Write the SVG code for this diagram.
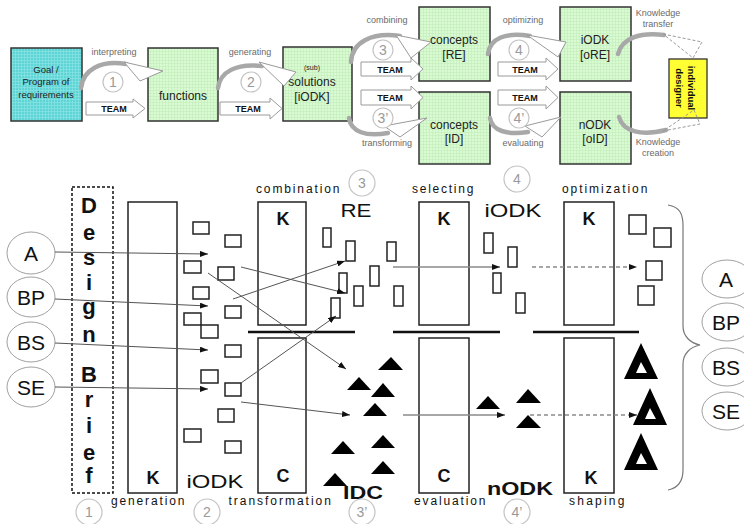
<svg xmlns="http://www.w3.org/2000/svg" width="744" height="524" viewBox="0 0 744 524">
<defs>
<pattern id="gGreen" width="3" height="3" patternUnits="userSpaceOnUse"><rect width="3" height="3" fill="#d9fbd3"/><path d="M0 .5H3M.5 0V3" stroke="#c3ecbb" stroke-width=".6"/></pattern>
<pattern id="gCyan" width="3" height="3" patternUnits="userSpaceOnUse"><rect width="3" height="3" fill="#5fd4d4"/><path d="M0 .5H3M.5 0V3" stroke="#8ee6e6" stroke-width=".6"/></pattern>
<marker id="ah" viewBox="0 0 8 6" refX="8" refY="3" markerWidth="8" markerHeight="6" markerUnits="userSpaceOnUse" orient="auto"><path d="M0,0L8,3L0,6z" fill="#111"/></marker>
<style>
text{font-family:"Liberation Sans",Arial,sans-serif;text-anchor:middle}
.box{stroke:#333;stroke-width:1.5}
.lbl{fill:#6a6a6a;font-size:9px}
.bt{fill:#222;font-size:12px}
.team{fill:#fff;stroke:#9a9a9a;stroke-width:1}
.tt{font-size:9px;font-weight:bold;fill:#111}
.circ{fill:#fff;stroke:#c4c4c4;stroke-width:1.2}
.ct{fill:#9a9a9a;font-size:14px}
.band{fill:none;stroke:#a8a8a8;stroke-width:4.5;stroke-linecap:round}
.head{fill:#fff;stroke:#9a9a9a;stroke-width:1}
.dhead{fill:none;stroke:#9a9a9a;stroke-width:1;stroke-dasharray:3 2}
.kb{fill:none;stroke:#222;stroke-width:1.5}
.sq{fill:#fff;stroke:#222;stroke-width:1.5}
.kl{font-size:18px;font-weight:bold;fill:#111}
.ph{font-size:12px;fill:#111;letter-spacing:.6px}
.big{font-size:19px;fill:#111}
.db{font-size:22px;font-weight:bold;fill:#111}
.ell{fill:#fff;stroke:#a0a0a0;stroke-width:1}
.et{font-size:21px;fill:#111}
.ln{fill:none;stroke:#555;stroke-width:1}
.gl{fill:none;stroke:#8a8a8a;stroke-width:1.3}
.dl{fill:none;stroke:#8a8a8a;stroke-width:1.3;stroke-dasharray:4 3}
.bar{stroke:#111;stroke-width:2.5}
</style>
</defs>
<rect width="744" height="524" fill="#fff"/>

<!-- top process -->
<g id="goal"><rect x="11" y="48" width="71" height="73" fill="url(#gCyan)" class="box"/>
<text class="bt" style="font-size:9.5px" x="46" y="73">Goal /</text>
<text class="bt" style="font-size:9.5px" x="46" y="85">Program of</text>
<text class="bt" style="font-size:9.5px" x="46" y="98">requirements</text></g>
<g id="functions"><rect x="148" y="48" width="70" height="73" fill="url(#gGreen)" class="box"/>
<text class="bt" x="183" y="100">functions</text></g>
<g id="solutions"><rect x="283" y="47" width="69" height="74" fill="url(#gGreen)" class="box"/>
<text class="bt" style="font-size:7px" x="312" y="70">(sub)</text>
<text class="bt" x="312" y="86">solutions</text>
<text class="bt" x="312" y="101">[iODK]</text></g>
<g id="conceptsRE"><rect x="419" y="7" width="71" height="74" fill="url(#gGreen)" class="box"/>
<text class="bt" x="454" y="44">concepts</text><text class="bt" x="454" y="59">[RE]</text></g>
<g id="conceptsID"><rect x="419" y="92" width="71" height="72" fill="url(#gGreen)" class="box"/>
<text class="bt" x="454" y="129">concepts</text><text class="bt" x="454" y="143">[ID]</text></g>
<g id="iODK-oRE"><rect x="560" y="7" width="71" height="74" fill="url(#gGreen)" class="box"/>
<text class="bt" x="595" y="44">iODK</text><text class="bt" x="595" y="59">[oRE]</text></g>
<g id="nODK-oID"><rect x="560" y="92" width="71" height="72" fill="url(#gGreen)" class="box"/>
<text class="bt" x="595" y="129">nODK</text><text class="bt" x="595" y="143">[oID]</text></g>
<g id="designer"><rect x="669" y="59" width="38" height="59" fill="#ffff33" stroke="#333" stroke-width="1.3"/>
<text transform="translate(691,88) rotate(90)" style="font-size:9.5px;font-weight:bold;fill:#111" x="0" y="3">individual</text>
<text transform="translate(679,88) rotate(90)" style="font-size:9.5px;font-weight:bold;fill:#111" x="0" y="3">designer</text></g>

<g id="top-connectors">
<path class="band" d="M81,88 C83,70 100,60 126,64"/><polygon class="head" points="124,62 163,71 140,81"/>
<path class="band" d="M218,88 C220,72 236,63 262,66"/><polygon class="head" points="259,62 296,72 284,86"/>
<path class="band" d="M351,62 C352,42 372,32 400,36"/><polygon class="head" points="396,35 431,42 411,58"/>
<path class="band" d="M349,118 C351,132 366,137 388,133"/><polygon class="head" points="384,126 427,118 400,137"/>
<path class="band" d="M488,54 C490,38 506,32 530,36"/><polygon class="head" points="527,35 566,42 558,57"/>
<path class="band" d="M490,118 C492,131 507,135 528,132"/><polygon class="head" points="525,126 561,117 542,137"/>
<path class="band" d="M618,54 C622,38 640,32 664,35"/><polygon class="dhead" points="663,34 702,42 693,58"/>
<path class="band" d="M619,117 C623,132 642,136 666,130"/><polygon class="dhead" points="663,131 700,124 694,110"/>
<polygon class="team" points="86,102 133,102 133,99 145,108.5 133,118 133,115 86,115"/>
<polygon class="team" points="220,102 270,102 270,98 282,108.5 270,119 270,115 220,115"/>
<polygon class="team" points="361,62 411,62 411,58 423,69 411,80 411,76 361,76"/>
<polygon class="team" points="361,90 411,90 411,86 423,97.5 411,109 411,105 361,105"/>
<polygon class="team" points="498,62 546,62 546,58 558,69 546,80 546,76 498,76"/>
<polygon class="team" points="498,90 546,90 546,86 558,97.5 546,109 546,105 498,105"/>
</g>
<g id="top-labels">
<text class="tt" x="114" y="112">TEAM</text><text class="tt" x="248" y="112">TEAM</text>
<text class="tt" x="390" y="73">TEAM</text><text class="tt" x="390" y="101">TEAM</text>
<text class="tt" x="525" y="73">TEAM</text><text class="tt" x="525" y="101">TEAM</text>
<text class="lbl" x="114" y="55">interpreting</text>
<text class="lbl" x="250" y="55">generating</text>
<text class="lbl" x="387" y="23">combining</text>
<text class="lbl" x="387" y="146">transforming</text>
<text class="lbl" x="523" y="23">optimizing</text>
<text class="lbl" x="523" y="146">evaluating</text>
<text class="lbl" x="658" y="16">Knowledge</text><text class="lbl" x="658" y="27">transfer</text>
<text class="lbl" x="658" y="145">Knowledge</text><text class="lbl" x="658" y="156">creation</text>
<circle class="circ" cx="113" cy="82" r="10"/><text class="ct" x="113" y="87">1</text>
<circle class="circ" cx="251" cy="82" r="10"/><text class="ct" x="251" y="87">2</text>
<circle class="circ" cx="383" cy="50" r="10"/><text class="ct" x="383" y="55">3</text>
<circle class="circ" cx="383" cy="118" r="10"/><text class="ct" x="383" y="123">3’</text>
<circle class="circ" cx="519" cy="50" r="10"/><text class="ct" x="519" y="55">4</text>
<circle class="circ" cx="519" cy="118" r="10"/><text class="ct" x="519" y="123">4’</text>
</g>

<!-- bottom -->
<g id="design-brief"><rect x="72" y="187" width="41" height="306" fill="none" stroke="#111" stroke-width="1.5" stroke-dasharray="3 2"/>
<text class="db" x="89" y="213">D</text><text class="db" x="89" y="240">e</text><text class="db" x="89" y="265">s</text>
<text class="db" x="89" y="290">i</text><text class="db" x="89" y="314">g</text><text class="db" x="89" y="342">n</text>
<text class="db" x="89" y="382">B</text><text class="db" x="89" y="407">r</text><text class="db" x="89" y="433">i</text>
<text class="db" x="89" y="460">e</text><text class="db" x="89" y="483">f</text></g>

<g id="k-generation"><rect class="kb" x="128" y="202" width="49" height="291"/><text class="kl" x="153" y="484">K</text></g>
<g id="k-combination"><rect class="kb" x="258" y="202" width="48" height="123"/><text class="kl" x="283" y="225">K</text></g>
<g id="c-transformation"><rect class="kb" x="258" y="338" width="48" height="155"/><text class="kl" x="283" y="482">C</text></g>
<g id="k-selecting"><rect class="kb" x="419" y="202" width="50" height="123"/><text class="kl" x="444" y="225">K</text></g>
<g id="c-evaluation"><rect class="kb" x="419" y="338" width="50" height="155"/><text class="kl" x="444" y="482">C</text></g>
<g id="k-optimization"><rect class="kb" x="564" y="202" width="50" height="123"/><text class="kl" x="589" y="225">K</text></g>
<g id="k-shaping"><rect class="kb" x="564" y="338" width="50" height="155"/><text class="kl" x="591" y="484">K</text></g>

<g id="bars"><line class="bar" x1="248" y1="332" x2="355" y2="332"/><line class="bar" x1="393" y1="332" x2="500" y2="332"/><line class="bar" x1="533" y1="332" x2="639" y2="332"/></g>

<g id="inputs-left">
<ellipse class="ell" cx="31" cy="253" rx="24" ry="21"/><text class="et" x="31" y="261">A</text>
<ellipse class="ell" cx="31" cy="297" rx="24" ry="20"/><text class="et" x="31" y="305">BP</text>
<ellipse class="ell" cx="31" cy="342" rx="24" ry="20"/><text class="et" x="31" y="350">BS</text>
<ellipse class="ell" cx="31" cy="387" rx="24" ry="20"/><text class="et" x="31" y="395">SE</text></g>

<g id="inputs-right">
<ellipse class="ell" cx="727" cy="279" rx="25" ry="19"/><text class="et" x="726" y="287">A</text>
<ellipse class="ell" cx="727" cy="322" rx="25" ry="19"/><text class="et" x="726" y="330">BP</text>
<ellipse class="ell" cx="727" cy="367" rx="25" ry="19"/><text class="et" x="726" y="375">BS</text>
<ellipse class="ell" cx="727" cy="411" rx="25" ry="19"/><text class="et" x="726" y="419">SE</text>
<path d="M668,205 C680,207 683,214 683,226 L683,326 C683,336 690,343 700,345 C690,347 683,354 683,364 L683,470 C683,482 678,488 668,490" fill="none" stroke="#777" stroke-width="1.2"/></g>

<g id="squares">
<rect class="sq" x="193" y="222" width="16" height="12"/><rect class="sq" x="225" y="235" width="16" height="12"/>
<rect class="sq" x="184" y="261" width="17" height="12"/><rect class="sq" x="218" y="267" width="16" height="13"/>
<rect class="sq" x="193" y="287" width="16" height="12"/><rect class="sq" x="225" y="306" width="16" height="12"/>
<rect class="sq" x="184" y="313" width="17" height="12"/><rect class="sq" x="201" y="325" width="17" height="13"/>
<rect class="sq" x="225" y="345" width="16" height="12"/><rect class="sq" x="201" y="370" width="17" height="13"/>
<rect class="sq" x="225" y="383" width="16" height="13"/><rect class="sq" x="218" y="409" width="16" height="13"/>
<rect class="sq" x="184" y="429" width="17" height="13"/><rect class="sq" x="225" y="441" width="16" height="12"/>
<rect class="sq" x="629" y="215" width="17" height="19"/><rect class="sq" x="654" y="228" width="17" height="19"/>
<rect class="sq" x="646" y="261" width="16" height="19"/><rect class="sq" x="638" y="286" width="16" height="19"/>
</g>
<g id="bars-small">
<rect class="sq" x="323" y="228" width="8" height="19"/><rect class="sq" x="346" y="241" width="9" height="20"/>
<rect class="sq" x="339" y="273" width="8" height="20"/><rect class="sq" x="331" y="298" width="9" height="20"/>
<rect class="sq" x="354" y="286" width="9" height="20"/><rect class="sq" x="370" y="266" width="9" height="20"/>
<rect class="sq" x="387" y="242" width="9" height="19"/><rect class="sq" x="394" y="286" width="9" height="20"/>
<rect class="sq" x="484" y="233" width="9" height="20"/><rect class="sq" x="508" y="247" width="9" height="20"/>
<rect class="sq" x="493" y="273" width="8" height="20"/><rect class="sq" x="516" y="293" width="9" height="20"/>
</g>
<g id="triangles" fill="#000">
<polygon points="391,357 403,370 378,370"/><polygon points="359,377 371,390 347,390"/>
<polygon points="383,383 395,397 371,397"/><polygon points="375,403 387,416 363,416"/>
<polygon points="343,441 355,454 331,454"/><polygon points="383,435 395,448 371,448"/>
<polygon points="383,461 395,474 371,474"/><polygon points="335,473 347,486 323,486"/>
<polygon points="488,396 500,409 476,409"/><polygon points="528,389 541,403 516,403"/>
<polygon points="528,415 541,428 516,428"/>
<path d="M641,343 L658,379 L624,379Z M641,362 L636,373 L647,373Z" fill-rule="evenodd"/>
<path d="M650,388 L667,425 L633,425Z M650,408 L645,419 L656,419Z" fill-rule="evenodd"/>
<path d="M641,433 L658,470 L624,470Z M641,453 L636,464 L647,464Z" fill-rule="evenodd"/>
</g>

<g id="connectors">
<line class="ln" x1="55" y1="252" x2="208" y2="254" marker-end="url(#ah)"/>
<line class="ln" x1="55" y1="299" x2="208" y2="306" marker-end="url(#ah)"/>
<line class="ln" x1="55" y1="343" x2="208" y2="350" marker-end="url(#ah)"/>
<line class="ln" x1="55" y1="387" x2="208" y2="389" marker-end="url(#ah)"/>
<line class="ln" x1="208" y1="273" x2="346" y2="369" marker-end="url(#ah)"/>
<line class="ln" x1="241" y1="267" x2="345" y2="293" marker-end="url(#ah)"/>
<line class="ln" x1="233" y1="299" x2="345" y2="261" marker-end="url(#ah)"/>
<line class="ln" x1="241" y1="383" x2="336" y2="316" marker-end="url(#ah)"/>
<line class="ln" x1="241" y1="402" x2="350" y2="415" marker-end="url(#ah)"/>
<line class="gl" x1="393" y1="267" x2="500" y2="267" marker-end="url(#ah)"/>
<line class="dl" x1="532" y1="267" x2="637" y2="267" marker-end="url(#ah)"/>
<line class="gl" x1="403" y1="415" x2="505" y2="415" marker-end="url(#ah)"/>
<line class="dl" x1="530" y1="415" x2="637" y2="415" marker-end="url(#ah)"/>
</g>

<g id="bottom-labels">
<text class="ph" x="298" y="193" textLength="84" lengthAdjust="spacing">combination</text>
<text class="ph" x="443" y="193" textLength="62" lengthAdjust="spacing">selecting</text>
<text class="ph" x="605" y="193" textLength="86" lengthAdjust="spacing">optimization</text>
<text class="ph" x="148" y="505" textLength="74" lengthAdjust="spacing">generation</text>
<text class="ph" x="280" y="505" textLength="103" lengthAdjust="spacing">transformation</text>
<text class="ph" x="450" y="505" textLength="72" lengthAdjust="spacing">evaluation</text>
<text class="ph" x="597" y="505" textLength="56" lengthAdjust="spacing">shaping</text>
<text class="big" x="356" y="217" textLength="31" lengthAdjust="spacingAndGlyphs">RE</text>
<text class="big" x="513" y="217" textLength="57" lengthAdjust="spacingAndGlyphs">iODK</text>
<text class="big" x="215" y="488" textLength="57" lengthAdjust="spacingAndGlyphs">iODK</text>
<text class="big" x="363" y="499" style="font-weight:bold" textLength="40" lengthAdjust="spacingAndGlyphs">IDC</text>
<text class="big" x="520" y="495" style="font-weight:bold" textLength="66" lengthAdjust="spacingAndGlyphs">nODK</text>
<circle class="circ" cx="362" cy="183" r="13"/><text class="ct" x="362" y="188">3</text>
<circle class="circ" cx="517" cy="179" r="13"/><text class="ct" x="517" y="184">4</text>
<circle class="circ" cx="89" cy="512" r="13"/><text class="ct" x="89" y="517">1</text>
<circle class="circ" cx="207" cy="512" r="13"/><text class="ct" x="207" y="517">2</text>
<circle class="circ" cx="362" cy="512" r="13"/><text class="ct" x="362" y="517">3’</text>
<circle class="circ" cx="517" cy="512" r="13"/><text class="ct" x="517" y="517">4’</text>
</g>
</svg>
